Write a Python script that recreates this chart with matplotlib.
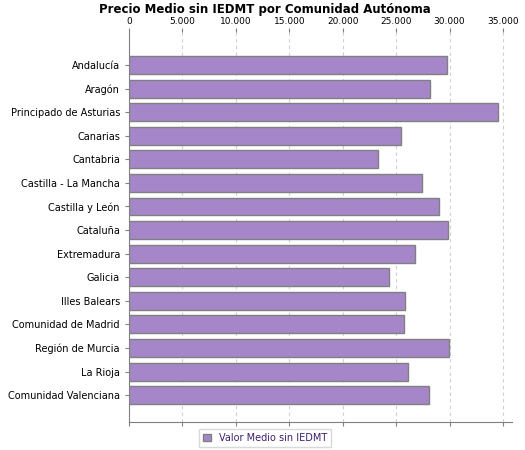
import matplotlib
matplotlib.use("Agg")
import matplotlib.pyplot as plt
from matplotlib.ticker import FuncFormatter

regions = ["Andalucía", "Aragón", "Principado de Asturias", "Canarias", "Cantabria",
           "Castilla - La Mancha", "Castilla y León", "Cataluña", "Extremadura", "Galicia",
           "Illes Balears", "Comunidad de Madrid", "Región de Murcia", "La Rioja",
           "Comunidad Valenciana"]
values = [29720, 28160, 34550, 25420, 23260, 27380, 28970, 29810, 26720, 24290,
          25790, 25700, 29900, 26070, 28040]

fig = plt.figure(figsize=(5.25, 4.5), dpi=100)
ax = fig.add_axes([129/525, 1-422/450, 383/525, 390/450])
y = list(range(len(regions)))
ax.barh(y, values, height=0.76, color="#a586c8", edgecolor="#808080", linewidth=1,
        label="Valor Medio sin IEDMT", zorder=3)
ax.set_ylim(len(regions)-1+1.14, -1.4)
ax.set_xlim(0, 35840)
ax.set_xticks(range(0, 35001, 5000))
ax.xaxis.set_major_formatter(FuncFormatter(lambda v, p: f"{int(v):,}".replace(",", ".")))
ax.xaxis.set_ticks_position("both")
ax.tick_params(axis="x", labeltop=True, labelbottom=False, labelsize=6.5, length=3,
               color="#808080", pad=1)
ax.set_yticks(y)
ax.set_yticklabels(regions, fontsize=7)
ax.tick_params(axis="y", length=3, color="#808080")
ax.grid(axis="x", linestyle=(0, (3, 3)), color="#d0d0d0", linewidth=0.8, zorder=0)
ax.spines["right"].set_visible(False)
ax.spines["top"].set_visible(False)
ax.spines["left"].set_color("#808080")
ax.spines["bottom"].set_color("#808080")
fig.text(265/525, 1-9/450, "Precio Medio sin IEDMT por Comunidad Autónoma", fontsize=8.5,
         fontweight="bold", ha="center", va="center")
leg = fig.legend(loc="center", bbox_to_anchor=(265/525, 1-438/450), fontsize=7, frameon=True,
                 fancybox=False, edgecolor="#d0d0d0", handlelength=0.8, handleheight=0.8,
                 borderpad=0.4)
for t in leg.get_texts():
    t.set_color("#3d1f6e")
fig.savefig("out.png", dpi=100)
